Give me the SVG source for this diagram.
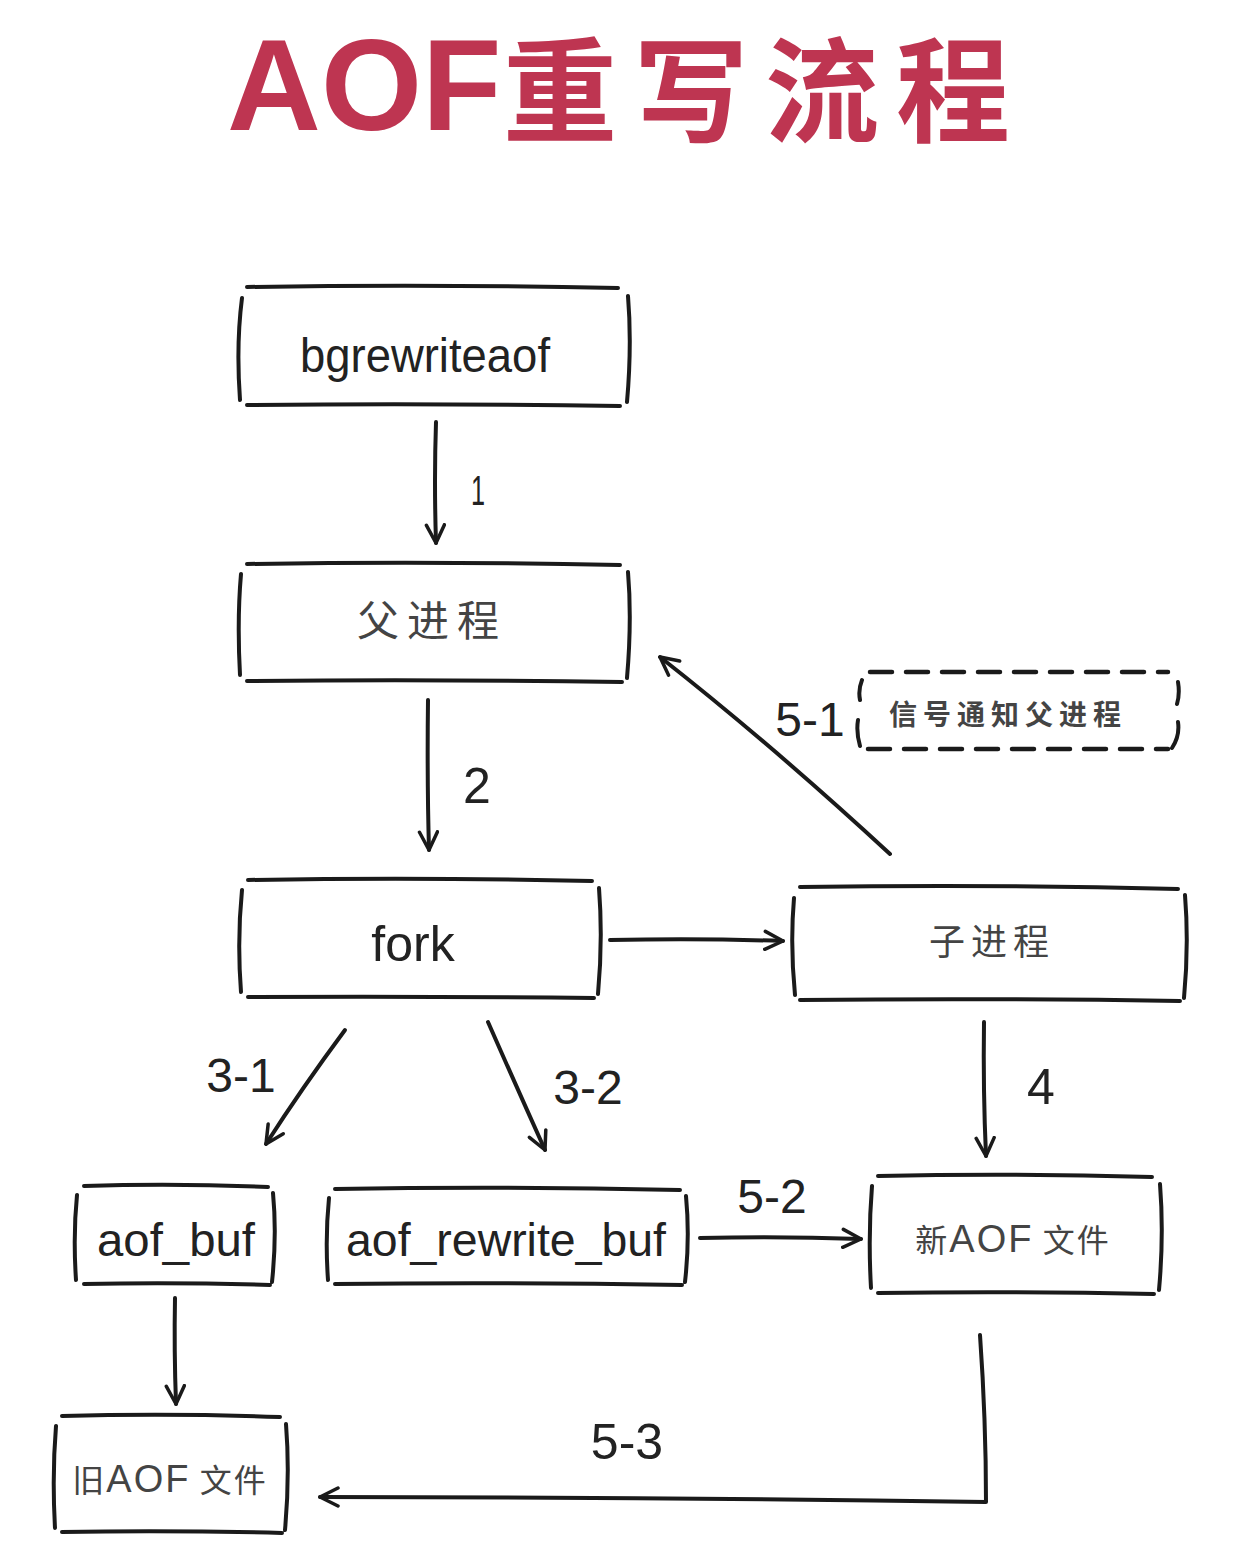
<svg xmlns="http://www.w3.org/2000/svg" width="1256" height="1562" viewBox="0 0 1256 1562">
<defs>
<style>
.box{fill:none;stroke:#1a1a1a;stroke-width:4;stroke-linecap:round;stroke-linejoin:round}
.dash{fill:none;stroke:#1a1a1a;stroke-width:4.5;stroke-linecap:round;stroke-dasharray:22 14}
.edge{fill:none;stroke:#1a1a1a;stroke-width:4;stroke-linecap:round;stroke-linejoin:round}
.t{font-family:"Liberation Sans","Noto Sans CJK SC",sans-serif;fill:#222;text-anchor:middle}
.cj{font-family:"Noto Sans CJK SC",sans-serif;fill:#444;text-anchor:middle}
.lbl{font-family:"Liberation Sans","Noto Sans",sans-serif;fill:#222;text-anchor:middle}
</style>
<marker id="ah" viewBox="0 0 22 22" refX="20" refY="11" markerWidth="22" markerHeight="22" markerUnits="userSpaceOnUse" orient="auto">
<path d="M2,2 L20,11 L2,20" fill="none" stroke="#1a1a1a" stroke-width="3.5" stroke-linecap="round" stroke-linejoin="round"/>
</marker>
</defs>
<rect width="1256" height="1562" fill="#ffffff"/>
<text x="227" y="130" font-family="Liberation Sans, Noto Sans CJK SC, sans-serif" font-weight="bold" font-size="130" fill="#BE3551">AOF</text>
<text x="503" y="133" font-family="Noto Sans CJK SC, sans-serif" font-weight="bold" font-size="114" letter-spacing="17" fill="#BE3551">重写流程</text>

<g id="n-bgrewriteaof">
<path class="box" d="M247,287 Q430,284 618,288 M247,405 Q430,403 620,406 M242,298 Q236,345 240,400 M628,296 Q632,345 627,402"/>
<text class="t" x="425" y="372" font-size="48" textLength="250" lengthAdjust="spacingAndGlyphs">bgrewriteaof</text>
</g>
<g id="n-parent">
<path class="box" d="M247,564 Q430,561 620,565 M247,681 Q430,679 622,682 M241,574 Q237,620 240,675 M628,572 Q632,620 627,678"/>
<text class="cj" x="432" y="636" font-size="42" letter-spacing="8">父进程</text>
</g>
<g id="n-fork">
<path class="box" d="M248,880 Q420,877 592,881 M248,997 Q420,996 594,998 M242,890 Q237,940 241,992 M599,888 Q603,940 598,994"/>
<text class="t" x="413" y="961" font-size="50">fork</text>
</g>
<g id="n-child">
<path class="box" d="M800,887 Q990,884 1178,889 M800,1000 Q990,998 1180,1001 M794,898 Q790,945 795,995 M1185,895 Q1189,945 1184,998"/>
<text class="cj" x="992" y="955" font-size="36" letter-spacing="6">子进程</text>
</g>
<g id="n-signal">
<path class="dash" d="M870,672 L1168,672 M868,749 L1168,749"/>
<path class="box" d="M862,680 Q858,690 860,700 M858,720 Q856,732 860,746 M1178,682 Q1180,694 1177,704 M1178,722 Q1180,736 1172,748"/>
<text class="cj" x="1008" y="725" font-size="28" font-weight="bold" letter-spacing="6" fill="#333">信号通知父进程</text>
</g>
<g id="n-aofbuf">
<path class="box" d="M84,1186 Q175,1183 268,1187 M84,1284 Q175,1282 270,1285 M77,1195 Q73,1235 76,1280 M273,1193 Q277,1235 272,1282"/>
<text class="t" x="176" y="1256" font-size="46" textLength="158" lengthAdjust="spacingAndGlyphs">aof_buf</text>
</g>
<g id="n-rewritebuf">
<path class="box" d="M335,1189 Q507,1186 680,1190 M335,1284 Q507,1282 682,1285 M329,1198 Q325,1238 328,1280 M686,1196 Q690,1238 685,1282"/>
<text class="t" x="506" y="1256" font-size="46" textLength="320" lengthAdjust="spacingAndGlyphs">aof_rewrite_buf</text>
</g>
<g id="n-newaof">
<path class="box" d="M878,1176 Q1015,1173 1152,1177 M878,1293 Q1015,1291 1154,1294 M872,1186 Q868,1235 871,1288 M1160,1184 Q1164,1235 1159,1290"/>
<text class="cj" x="1013" y="1252" font-size="32" letter-spacing="2">新<tspan font-family="Liberation Sans, sans-serif" font-size="38">AOF</tspan> 文件</text>
</g>
<g id="n-oldaof">
<path class="box" d="M62,1416 Q170,1413 280,1417 M62,1532 Q170,1530 282,1533 M56,1426 Q52,1475 55,1528 M286,1424 Q290,1475 285,1530"/>
<text class="cj" x="170" y="1492" font-size="32" letter-spacing="2">旧<tspan font-family="Liberation Sans, sans-serif" font-size="38">AOF</tspan> 文件</text>
</g>

<g id="edges">
<path class="edge" d="M436,422 Q434,480 436,543" marker-end="url(#ah)"/>
<path class="edge" d="M428,700 Q427,780 429,850" marker-end="url(#ah)"/>
<path class="edge" d="M890,854 Q772,745 660,657" marker-end="url(#ah)"/>
<path class="edge" d="M610,940 Q700,938 783,941" marker-end="url(#ah)"/>
<path class="edge" d="M345,1030 Q302,1088 266,1144" marker-end="url(#ah)"/>
<path class="edge" d="M488,1022 Q517,1088 545,1150" marker-end="url(#ah)"/>
<path class="edge" d="M984,1022 Q983,1090 986,1156" marker-end="url(#ah)"/>
<path class="edge" d="M700,1238 Q780,1236 861,1239" marker-end="url(#ah)"/>
<path class="edge" d="M175,1298 Q174,1350 176,1404" marker-end="url(#ah)"/>
<path class="edge" d="M980,1335 Q986,1420 986,1502 Q650,1497 320,1497" marker-end="url(#ah)"/>
<text class="lbl" x="478" y="505" font-size="42" transform="translate(478 0) scale(0.6 1) translate(-478 0)">1</text>
<text class="lbl" x="477" y="803" font-size="50">2</text>
<text class="lbl" x="810" y="736" font-size="48">5-1</text>
<text class="lbl" x="241" y="1092" font-size="48">3-1</text>
<text class="lbl" x="588" y="1104" font-size="48">3-2</text>
<text class="lbl" x="1041" y="1104" font-size="50">4</text>
<text class="lbl" x="772" y="1213" font-size="48">5-2</text>
<text class="lbl" x="627" y="1459" font-size="50">5-3</text>
</g>
</svg>
